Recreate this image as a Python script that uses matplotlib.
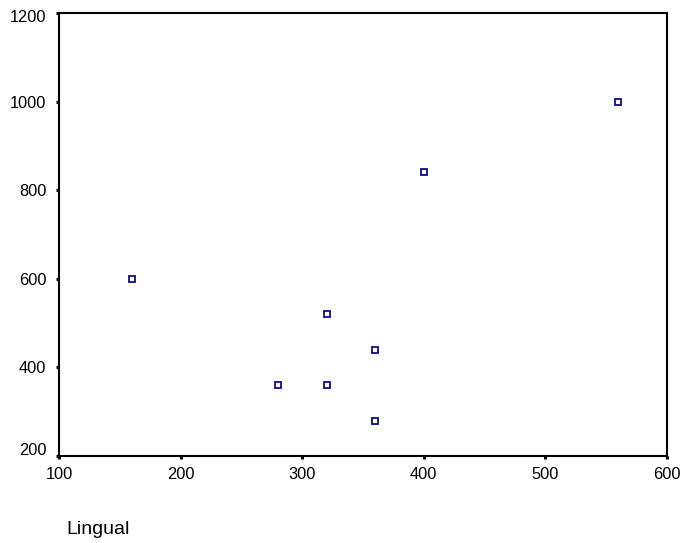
import matplotlib
matplotlib.use("Agg")
import matplotlib.pyplot as plt
from matplotlib.transforms import ScaledTranslation

lingual = [160, 280, 320, 320, 360, 360, 400, 560]
yvals = [600, 360, 360, 520, 440, 280, 840, 1000]
xticks = [100, 200, 300, 400, 500, 600]
yticks = [200, 400, 600, 800, 1000, 1200]

plt.rcParams['font.family'] = ['Liberation Sans', 'DejaVu Sans']

fig = plt.figure(figsize=(6.86, 5.43), dpi=100)
ax = fig.add_axes([59/686, 1-456/543, (667-59)/686, (456-13)/543])

ax.plot(lingual, yvals, linestyle='none', marker='s', markersize=5,
        markerfacecolor='white', markeredgecolor='#0c0c8a', markeredgewidth=1.3)

ax.set_xlim(100, 600)
ax.set_ylim(200, 1200)
ax.set_xticks(xticks)
ax.set_yticks(yticks)
ax.set_xticklabels([str(v) for v in xticks])
ax.set_yticklabels([str(v) for v in yticks])

for s in ax.spines.values():
    s.set_linewidth(1.5)
    s.set_color('black')

ax.tick_params(axis='both', direction='out', length=2.2, width=2.2,
               labelsize=11.8, colors='black')
ax.tick_params(axis='x', pad=6)
ax.tick_params(axis='y', pad=7)

yt = ax.yaxis.get_major_ticks()
yt[0].label1.set_transform(yt[0].label1.get_transform() + ScaledTranslation(0, 7/100, fig.dpi_scale_trans))
yt[-1].label1.set_transform(yt[-1].label1.get_transform() + ScaledTranslation(0, -3/100, fig.dpi_scale_trans))

fig.text(66/686, 1-534/543, 'Lingual', fontsize=14, va='baseline', ha='left')

fig.savefig('out.png', dpi=100, facecolor='white')
